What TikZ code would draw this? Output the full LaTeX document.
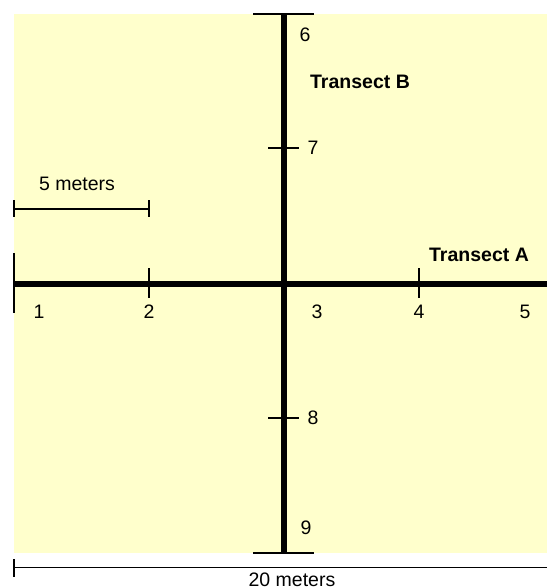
\documentclass[tikz,border=0pt]{standalone}
\usepackage{fontspec}
\setmainfont{Liberation Sans}
\begin{document}
\begin{tikzpicture}[x=1pt,y=-1pt,
  lbl/.style={inner sep=0pt,font=\fontsize{19.5}{23}\selectfont},
  blbl/.style={inner sep=0pt,font=\fontsize{19.5}{23}\selectfont\bfseries},
  transect/.style={line width=6pt,black},
  capline/.style={line width=2pt,black},
  tickline/.style={line width=1.6pt,black},
  barline/.style={line width=1.5pt,black}]
\useasboundingbox (0,0) rectangle (547,587);
\fill[fill={rgb,255:red,255;green,255;blue,204}] (14,14) rectangle (547,553);
% key coordinates
\coordinate (Btop) at (283.5,14);
\coordinate (Bbot) at (283.5,553);
\coordinate (Aleft) at (14,283.5);
\coordinate (Aright) at (547,283.5);
% transects
\draw[transect] (Btop) -- (Bbot);
\draw[transect] (Aleft) -- (Aright);
% end caps of transect B
\coordinate (BtopL) at (253,14);
\coordinate (BtopR) at (314,14);
\coordinate (BbotL) at (253,553);
\coordinate (BbotR) at (314,553);
\draw[capline] (BtopL) -- (BtopR);
\draw[capline] (BbotL) -- (BbotR);
% ticks on B
\coordinate (t7L) at (268,148);
\coordinate (t7R) at (299,148);
\coordinate (t8L) at (268,418);
\coordinate (t8R) at (299,418);
\draw[tickline] (t7L) -- (t7R);
\draw[tickline] (t8L) -- (t8R);
% ticks on A
\coordinate (t1T) at (14,253);
\coordinate (t1B) at (14,313);
\coordinate (t2T) at (149,268);
\coordinate (t2B) at (149,298);
\coordinate (t4T) at (419,268);
\coordinate (t4B) at (419,298);
\draw[capline] (t1T) -- (t1B);
\draw[capline] (t2T) -- (t2B);
\draw[capline] (t4T) -- (t4B);
% 5 meter scale bar
\coordinate (s5L) at (14,209);
\coordinate (s5R) at (149,209);
\draw[barline] (s5L) -- (s5R);
\draw[barline] (14,200) -- (14,217);
\draw[barline] (149,200) -- (149,217);
% 20 meter scale bar
\coordinate (s20L) at (14,567.5);
\coordinate (s20R) at (547,567.5);
\draw[barline] (s20L) -- (s20R);
\draw[barline] (14,559) -- (14,577);
% labels
\node[lbl] (n6) at (305,35) {6};
\node[blbl] (tb) at (360,82) {Transect B};
\node[lbl] (n7) at (313,148) {7};
\node[lbl] (m5) at (77,184) {5 meters};
\node[blbl] (ta) at (479,255) {Transect A};
\node[lbl] (n1) at (39,312) {1};
\node[lbl] (n2) at (149,312) {2};
\node[lbl] (n3) at (317,312) {3};
\node[lbl] (n4) at (419,312) {4};
\node[lbl] (n5) at (525,312) {5};
\node[lbl] (n8) at (313,418) {8};
\node[lbl] (n9) at (306,528) {9};
\node[lbl] (m20) at (292,580) {20 meters};
\end{tikzpicture}
\end{document}
